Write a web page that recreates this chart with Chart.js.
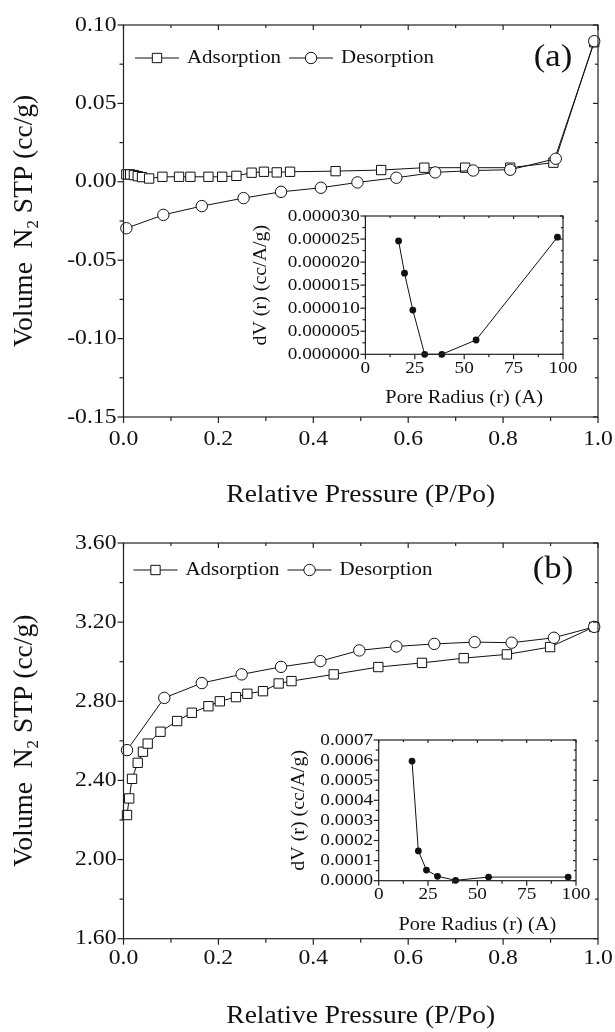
<!DOCTYPE html>
<html>
<head>
<meta charset="utf-8">
<script src="https://cdn.jsdelivr.net/npm/chart.js@4.4.1/dist/chart.umd.min.js"></script>
<style>
  html, body { margin: 0; padding: 0; background: #fff; }
  #wrap { position: relative; width: 615px; height: 1032px; overflow: hidden; }
  canvas { position: absolute; }
</style>
</head>
<body>
<div id="wrap">
  <canvas id="cA" width="615" height="520" style="left:0;top:0"></canvas>
  <canvas id="cAi" width="340" height="220" style="left:240px;top:195px"></canvas>
  <canvas id="cB" width="615" height="512" style="left:0;top:520px"></canvas>
  <canvas id="cBi" width="340" height="220" style="left:250px;top:720px"></canvas>
</div>
<script>
// =========================
// Data
// =========================
const seriesNames = ["Adsorption", "Desorption"];

// panel (a)
const aAdsX = [0.006, 0.014, 0.022, 0.030, 0.039, 0.054, 0.082, 0.117, 0.141, 0.179, 0.208, 0.238, 0.270, 0.296, 0.323, 0.351, 0.447, 0.543, 0.634, 0.720, 0.815, 0.906, 0.992];
const aAdsY = [0.0047, 0.0047, 0.0043, 0.0036, 0.0030, 0.0021, 0.0032, 0.0032, 0.0032, 0.0032, 0.0032, 0.0038, 0.0058, 0.0064, 0.0060, 0.0064, 0.0068, 0.0075, 0.0090, 0.0090, 0.0090, 0.0122, 0.0890];
const aDesX = [0.006, 0.084, 0.165, 0.253, 0.332, 0.416, 0.493, 0.575, 0.657, 0.737, 0.815, 0.911, 0.992];
const aDesY = [-0.0296, -0.0211, -0.0155, -0.0104, -0.0064, -0.0038, -0.0004, 0.0026, 0.0060, 0.0072, 0.0077, 0.0147, 0.0897];
const aPoreR = [16.8, 19.8, 24.0, 30.0, 38.7, 56.0, 97.2];
const aPoreDV = [0.0000246, 0.0000176, 0.0000096, 0, 0, 0.0000031, 0.0000254];

// panel (b)
const bAdsX = [0.0074, 0.012, 0.018, 0.030, 0.041, 0.051, 0.078, 0.113, 0.144, 0.179, 0.203, 0.237, 0.261, 0.294, 0.327, 0.354, 0.443, 0.537, 0.629, 0.717, 0.808, 0.899, 0.992];
const bAdsY = [2.225, 2.309, 2.408, 2.489, 2.545, 2.586, 2.646, 2.700, 2.742, 2.775, 2.800, 2.821, 2.838, 2.851, 2.890, 2.902, 2.936, 2.973, 2.994, 3.018, 3.037, 3.074, 3.176];
const bDesX = [0.0074, 0.086, 0.165, 0.249, 0.332, 0.415, 0.497, 0.575, 0.655, 0.740, 0.818, 0.907, 0.992];
const bDesY = [2.553, 2.817, 2.892, 2.936, 2.974, 3.003, 3.057, 3.077, 3.090, 3.099, 3.096, 3.121, 3.176];
const bPoreR = [16.9, 20.1, 24.2, 29.8, 39.0, 55.7, 96.0];
const bPoreDV = [0.000595, 0.000148, 0.000053, 0.000022, 0.000002, 0.000018, 0.000018];

// tick labels
const pressTicks = ["0.0", "0.2", "0.4", "0.6", "0.8", "1.0"];
const aVolTicks = ["-0.15", "-0.10", "-0.05", "0.00", "0.05", "0.10"];
const bVolTicks = ["1.60", "2.00", "2.40", "2.80", "3.20", "3.60"];
const radiusTicks = ["0", "25", "50", "75", "100"];
const aDVTicks = ["0.000000", "0.000005", "0.000010", "0.000015", "0.000020", "0.000025", "0.000030"];
const bDVTicks = ["0.0000", "0.0001", "0.0002", "0.0003", "0.0004", "0.0005", "0.0006", "0.0007"];

const pressTitle = "Relative Pressure (P/Po)";
const volTitle = [["Volume  N", 0], ["2", 1], [" STP (cc/g)", 0]];
const radiusTitle = "Pore Radius (r) (A)";
const dvTitle = [["dV (r) (cc/A/g)", 0]];

// =========================
// Text helpers
// =========================
const SX = 1.1; // the figure's serif runs a little wider than Liberation Serif
const FONT = '"Liberation Serif", "Times New Roman", serif';
const INK = "#111";

function textW(ctx, s, size, sx) {
  ctx.save();
  ctx.font = size + "px " + FONT;
  const w = ctx.measureText(s).width * sx;
  ctx.restore();
  return w;
}

function put(ctx, s, x, y, size, align) {
  ctx.save();
  ctx.translate(x, y);
  ctx.scale(SX, 1);
  ctx.font = size + "px " + FONT;
  ctx.textAlign = align || "center";
  ctx.textBaseline = "middle";
  ctx.fillStyle = INK;
  ctx.fillText(s, 0, 0);
  ctx.restore();
}

// rotated title, parts = [text, isSubscript]
function putVertical(ctx, parts, cx, cy, size, sx) {
  const sizes = parts.map((p) => (p[1] ? size * 0.62 : size));
  const widths = parts.map((p, i) => textW(ctx, p[0], sizes[i], sx));
  const total = widths.reduce((s, w) => s + w, 0);
  ctx.save();
  ctx.translate(cx, cy);
  ctx.rotate(-Math.PI / 2);
  let x = -total / 2;
  parts.forEach((p, i) => {
    ctx.save();
    ctx.translate(x, p[1] ? size * 0.32 : 0);
    ctx.scale(sx, 1);
    ctx.font = sizes[i] + "px " + FONT;
    ctx.textAlign = "left";
    ctx.textBaseline = "middle";
    ctx.fillStyle = INK;
    ctx.fillText(p[0], 0, 0);
    ctx.restore();
    x += widths[i];
  });
  ctx.restore();
}

function mids(vals) {
  const out = [];
  for (let i = 0; i < vals.length - 1; i++) out.push((vals[i] + vals[i + 1]) / 2);
  return out;
}

// =========================
// Frame, ticks, labels, legend
// =========================
const decor = {
  id: "decor",
  afterDraw(chart, args, o) {
    const ctx = chart.ctx;
    const a = chart.chartArea;
    const sx = chart.scales.x;
    const sy = chart.scales.y;
    const xv = o.xTicks.map(Number);
    const yv = o.yTicks.map(Number);

    ctx.save();
    ctx.strokeStyle = "#222";
    ctx.lineWidth = 1.2;
    ctx.strokeRect(a.left, a.top, a.right - a.left, a.bottom - a.top);

    const seg = (x1, y1, x2, y2) => {
      ctx.beginPath();
      ctx.moveTo(x1, y1);
      ctx.lineTo(x2, y2);
      ctx.stroke();
    };
    const [outMaj, outMin, inMaj, inMin] = o.tickLen;
    xv.forEach((v) => {
      const p = sx.getPixelForValue(v);
      seg(p, a.bottom, p, a.bottom + outMaj);
      seg(p, a.top, p, a.top + inMaj);
    });
    mids(xv).forEach((v) => {
      const p = sx.getPixelForValue(v);
      seg(p, a.bottom, p, a.bottom + outMin);
      seg(p, a.top, p, a.top + inMin);
    });
    yv.forEach((v) => {
      const p = sy.getPixelForValue(v);
      seg(a.left - outMaj, p, a.left, p);
      seg(a.right - inMaj, p, a.right, p);
    });
    mids(yv).forEach((v) => {
      const p = sy.getPixelForValue(v);
      seg(a.left - outMin, p, a.left, p);
      seg(a.right - inMin, p, a.right, p);
    });

    // tick labels
    o.xTicks.forEach((t, i) => put(ctx, t, sx.getPixelForValue(xv[i]), a.bottom + o.xLabelOff, o.tickSize, "center"));
    o.yTicks.forEach((t, i) => put(ctx, t, a.left - o.yLabelGap, sy.getPixelForValue(yv[i]), o.tickSize, "right"));

    // axis titles
    put(ctx, o.xTitle, (a.left + a.right) / 2, a.bottom + o.xTitleOff, o.titleSize, "center");
    putVertical(ctx, o.yTitle, o.yTitleX, (a.top + a.bottom) / 2, o.yTitleSize, o.yTitleSX);

    // legend
    if (o.legend) {
      let x = a.left + o.legend.dx;
      const y = a.top + o.legend.dy;
      ctx.lineWidth = 1;
      ctx.strokeStyle = INK;
      seriesNames.forEach((name, i) => {
        const ds = chart.data.datasets[i];
        seg(x, y, x + 44, y);
        ctx.fillStyle = "#fff";
        ctx.beginPath();
        if (ds.pointStyle === "rect") {
          const h = ds.pointRadius * Math.SQRT1_2;
          ctx.rect(x + 22 - h, y - h, 2 * h, 2 * h);
        } else {
          ctx.arc(x + 22, y, ds.pointRadius, 0, Math.PI * 2);
        }
        ctx.fill();
        ctx.stroke();
        put(ctx, name, x + 52, y, o.legend.size, "left");
        x += 52 + textW(ctx, name, o.legend.size, SX) + 8;
      });
    }

    if (o.tag) put(ctx, o.tag, a.right - 45, a.top + o.tagDy, o.tagSize, "center");
    ctx.restore();
  },
};
Chart.register(decor);

function pts(xs, ys) {
  return xs.map((x, i) => ({ x: x, y: ys[i] }));
}

function mainChart(id, ads, des, yTicks, pad, extra) {
  const yv = yTicks.map(Number);
  return new Chart(document.getElementById(id), {
    type: "scatter",
    data: {
      datasets: [
        {
          label: seriesNames[0],
          data: ads,
          showLine: true,
          pointStyle: "rect",
          pointRadius: 6.6,
          pointBackgroundColor: "#fff",
          pointBorderColor: INK,
          pointBorderWidth: 1,
          borderColor: INK,
          borderWidth: 1,
          order: 1,
          clip: false,
        },
        {
          label: seriesNames[1],
          data: des,
          showLine: true,
          pointStyle: "circle",
          pointRadius: 5.7,
          pointBackgroundColor: "#fff",
          pointBorderColor: INK,
          pointBorderWidth: 1,
          borderColor: INK,
          borderWidth: 1,
          order: 0,
          clip: false,
        },
      ],
    },
    options: {
      responsive: false,
      animation: false,
      devicePixelRatio: 1,
      layout: { padding: pad },
      plugins: {
        legend: { display: false },
        tooltip: { enabled: false },
        decor: Object.assign(
          {
            xTicks: pressTicks,
            yTicks: yTicks,
            tickLen: [6, 4, 5, 3],
            tickSize: 21.5,
            xTitle: pressTitle,
            xTitleOff: 78,
            titleSize: 25,
            yTitle: volTitle,
            yTitleX: 25,
            yTitleSize: 27.5,
            yTitleSX: 1.0,
            yLabelGap: 7,
            tagSize: 31.5,
          },
          extra
        ),
      },
      scales: {
        x: { type: "linear", min: 0, max: 1, display: false },
        y: { type: "linear", min: yv[0], max: yv[yv.length - 1], display: false },
      },
    },
  });
}

function insetChart(id, r, dv, yTicks, pad, extra) {
  const yv = yTicks.map(Number);
  return new Chart(document.getElementById(id), {
    type: "scatter",
    data: {
      datasets: [
        {
          label: "dV",
          data: pts(r, dv),
          showLine: true,
          pointStyle: "circle",
          pointRadius: 3.4,
          pointBackgroundColor: INK,
          pointBorderColor: INK,
          pointBorderWidth: 0,
          borderColor: INK,
          borderWidth: 1,
          clip: false,
        },
      ],
    },
    options: {
      responsive: false,
      animation: false,
      devicePixelRatio: 1,
      layout: { padding: pad },
      plugins: {
        legend: { display: false },
        tooltip: { enabled: false },
        decor: Object.assign(
          {
            xTicks: radiusTicks,
            yTicks: yTicks,
            tickLen: [5, 3, 3, 2],
            tickSize: 17.5,
            xLabelOff: 14,
            xTitle: radiusTitle,
            xTitleOff: 44,
            titleSize: 18.5,
            yTitle: dvTitle,
            yTitleSize: 19,
            yTitleSX: 1.05,
            yLabelGap: 5.5,
          },
          extra
        ),
      },
      scales: {
        x: { type: "linear", min: 0, max: 100, display: false },
        y: { type: "linear", min: yv[0], max: yv[yv.length - 1], display: false },
      },
    },
  });
}

// =========================
// Start
// =========================
mainChart("cA", pts(aAdsX, aAdsY), pts(aDesX, aDesY), aVolTicks,
  { left: 123.5, right: 17, top: 25, bottom: 103 },
  { xLabelOff: 22, legend: { dx: 11.5, dy: 33, size: 19 }, tag: "(a)", tagDy: 33 });
insetChart("cAi", aPoreR, aPoreDV, aDVTicks,
  { left: 125.4, right: 17, top: 21, bottom: 60.7 },
  { yTitleX: 21 });
mainChart("cB", pts(bAdsX, bAdsY), pts(bDesX, bDesY), bVolTicks,
  { left: 123.5, right: 17, top: 23, bottom: 93.3 },
  { xLabelOff: 20, legend: { dx: 10, dy: 27, size: 19 }, tag: "(b)", tagDy: 27 });
insetChart("cBi", bPoreR, bPoreDV, bDVTicks,
  { left: 128.7, right: 14, top: 20, bottom: 59.3 },
  { yTitleX: 49 });
</script>
</body>
</html>
